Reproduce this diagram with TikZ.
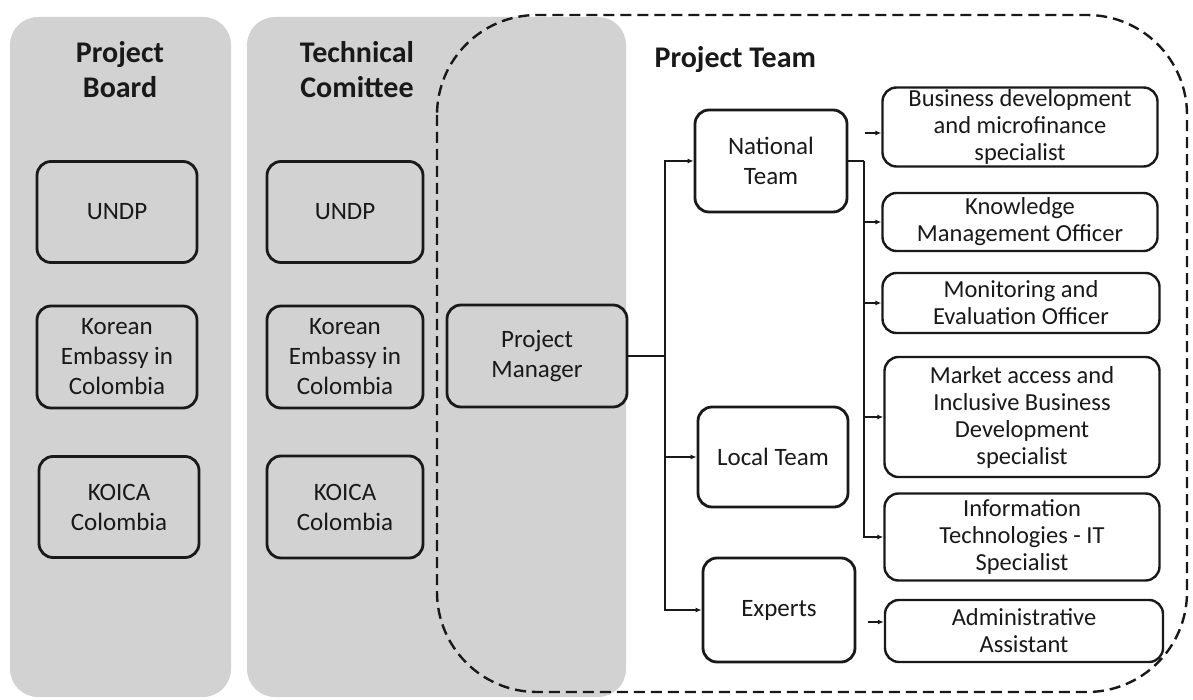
\documentclass[tikz,border=0pt]{standalone}
\usepackage{fontspec}
\setmainfont{Carlito}
\usetikzlibrary{arrows.meta}
\definecolor{colgray}{RGB}{210,210,210}
\definecolor{ink}{RGB}{25,25,25}
\begin{document}
\begin{tikzpicture}[x=1pt,y=-1pt,
  box/.style={draw=ink, line width=2.8pt, rounded corners=14pt, align=center, inner sep=0pt, text=ink, font=\fontsize{25}{30}\selectfont},
  rbox/.style={box, line width=2.4pt, font=\fontsize{24.5}{27}\selectfont},
  ttl/.style={font=\bfseries\fontsize{30}{35}\selectfont, align=center, text=ink},
  conn/.style={line width=1.5pt, draw=ink},
  arr/.style={conn, -{Latex[length=6pt,width=5pt]}},
]
\useasboundingbox (0,0) rectangle (1193,700);
\fill[white] (0,0) rectangle (1193,700);
% gray columns
\fill[colgray, rounded corners=28pt] (10,17) rectangle (231,697);
\fill[colgray, rounded corners=28pt] (247,17) rectangle (626,697);
% dashed project team area
\draw[ink, line width=2.4pt, dash pattern=on 11pt off 6pt, rounded corners=100pt] (437,15) rectangle (1187,692);

% titles
\node[ttl] (pbt) at (120,70) {Project\\Board};
\node[ttl] (tct) at (357,70) {Technical\\Comittee};
\node[ttl, anchor=base west] (ptt) at (651,68) {Project Team};

% project board
\node[box, minimum width=160pt, minimum height=101pt] (pbu) at (117,212) {UNDP};
\node[box, minimum width=160pt, minimum height=102pt] (pbk) at (117,357) {Korean\\Embassy in\\Colombia};
\node[box, minimum width=160pt, minimum height=101pt] (pbo) at (119,507) {KOICA\\Colombia};

% technical committee
\node[box, minimum width=156pt, minimum height=101pt] (tcu) at (345,212) {UNDP};
\node[box, minimum width=156pt, minimum height=102pt] (tck) at (345,357) {Korean\\Embassy in\\Colombia};
\node[box, minimum width=156pt, minimum height=102pt] (tco) at (345,507) {KOICA\\Colombia};

% project manager
\node[box, minimum width=180pt, minimum height=102pt] (pm) at (537,356) {Project\\Manager};

% teams
\node[box, fill=white, minimum width=152pt, minimum height=102pt] (nt) at (771,161) {National\\Team};
\node[box, fill=white, minimum width=150pt, minimum height=100pt] (lt) at (773,457) {Local Team};
\node[box, fill=white, minimum width=152pt, minimum height=104pt] (ex) at (779,610) {Experts};

% specialists
\node[rbox, fill=white, minimum width=275pt, minimum height=79pt] (bd) at (1020,127) {Business development\\and microfinance\\specialist};
\node[rbox, fill=white, minimum width=275pt, minimum height=58pt] (km) at (1020,222) {Knowledge\\Management Officer};
\node[rbox, fill=white, minimum width=277pt, minimum height=60pt] (me) at (1021,303) {Monitoring and\\Evaluation Officer};
\node[rbox, fill=white, minimum width=275pt, minimum height=120pt] (ma) at (1022,417) {Market access and\\Inclusive Business\\Development\\specialist};
\node[rbox, fill=white, minimum width=275pt, minimum height=87pt] (it) at (1022,537) {Information\\Technologies - IT\\Specialist};
\node[rbox, fill=white, minimum width=278pt, minimum height=62pt] (ad) at (1024,631) {Administrative\\Assistant};

% connectors from project manager
\coordinate (j1) at (665,356);
\draw[conn] (pm.east) -- (j1);
\draw[arr] (j1) |- (nt.west);
\draw[arr] (j1) |- (lt.west);
\draw[arr] (j1) |- (ex.west);

% connectors from national team
\coordinate (j2) at (864,161);
\draw[conn] (nt.east |- j2) -- (j2);
\draw[arr] (j2) |- (km.west);
\draw[arr] (j2) |- (me.west);
\draw[arr] (j2) |- (ma.west);
\draw[arr] (j2) |- (it.west);

% free stubs
\coordinate (s1) at (865,133);
\draw[arr] (s1) -- (s1 -| bd.west);
\coordinate (s2) at (868,622);
\draw[arr] (s2) -- (s2 -| ad.west);
\end{tikzpicture}
\end{document}
